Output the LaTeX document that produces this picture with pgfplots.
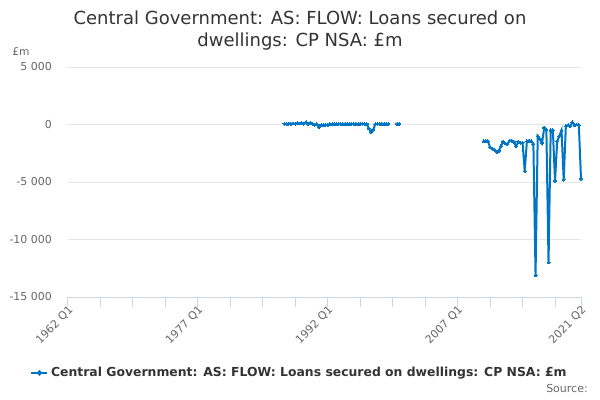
\documentclass[border=0pt]{standalone}
\usepackage{pgfplots}
\pgfplotsset{compat=1.18}
\usepackage{fontspec}
\setmainfont{DejaVu Sans}
\definecolor{lineblue}{RGB}{0,117,196}
\definecolor{gridc}{RGB}{230,230,230}
\definecolor{axisc}{RGB}{204,214,235}
\definecolor{labc}{RGB}{102,102,102}
\definecolor{titc}{RGB}{51,51,51}
\begin{document}
\begin{tikzpicture}
\begin{axis}[
  at={(0pt,0pt)}, anchor=south west,
  scale only axis,
  width=384.75pt, height=172.5pt,
  xmin=1962, xmax=2021.25,
  ymin=-15000, ymax=5000,
  scaled y ticks=false, scaled x ticks=false,
  axis x line*=bottom, axis y line*=left,
  x axis line style={-, color=axisc, line width=0.75pt},
  y axis line style={draw=none},
  xtick={1962,1977,1992,2007,2021.25},
  xticklabels={1962 Q1,1977 Q1,1992 Q1,2007 Q1,2021 Q2},
  minor xtick={1965.75,1969.5,1973.25,1980.75,1984.5,1988.25,1995.75,1999.5,2003.25,2010.75,2014.5,2018.25},
  ytick={-15000,-10000,-5000,0,5000},
  yticklabels={-15 000,-10 000,-5 000,0,5 000},
  major tick length=7.5pt,
  minor tick length=7.5pt,
  tick align=outside,
  xtick style={color=axisc, line width=0.75pt},
  minor x tick style={color=axisc, line width=0.75pt},
  ytick style={draw=none},
  ymajorgrids,
  major grid style={color=gridc, line width=0.75pt},
  tick label style={font=\fontsize{8.2}{9.8}\selectfont, text=labc},
  xticklabel style={rotate=45, anchor=east, inner sep=1pt, yshift=-2.5pt, xshift=2pt},
  yticklabel style={anchor=east, inner sep=0pt, xshift=-4.5pt},
  unbounded coords=jump,
  clip=false,
  legend style={at={(0.452,-0.33)}, anchor=center, draw=none, fill=none,
    font=\fontsize{9.3}{11}\selectfont\bfseries, text=titc, inner sep=0pt},
  legend image code/.code={\draw[#1, mark=none] (0pt,0pt) -- (12pt,0pt); \fill[lineblue] (6pt,0pt) circle (1.2pt);},
]
\addplot[color=lineblue, line width=1.5pt, mark=*, mark size=1.1pt, mark options={fill=lineblue, draw=lineblue, line width=0pt}] coordinates {
(1987.00,50) (1987.25,40) (1987.50,80) (1987.75,60)
(1988.00,90) (1988.25,70) (1988.50,120) (1988.75,90)
(1989.00,150) (1989.25,80) (1989.50,200) (1989.75,30)
(1990.00,160) (1990.25,60) (1990.50,-20) (1990.75,40)
(1991.00,-250) (1991.25,-30) (1991.50,-60) (1991.75,-20)
(1992.00,-50) (1992.25,40) (1992.50,10) (1992.75,50)
(1993.00,20) (1993.25,60) (1993.50,30) (1993.75,50)
(1994.00,40) (1994.25,60) (1994.50,30) (1994.75,50)
(1995.00,40) (1995.25,60) (1995.50,40) (1995.75,50)
(1996.00,60) (1996.25,40) (1996.50,50) (1996.75,-350)
(1997.00,-650) (1997.25,-450) (1997.50,30) (1997.75,60)
(1998.00,50) (1998.25,70) (1998.50,40) (1998.75,60)
(1999.00,50)
(1999.25,nan)
(2000.00,50) (2000.25,50)
(2000.50,nan)
(2010.00,-1450) (2010.25,-1450) (2010.50,-1450) (2010.75,-2000)
(2011.00,-2100) (2011.25,-2200) (2011.50,-2400) (2011.75,-2300)
(2012.00,-1900) (2012.25,-1500) (2012.50,-1650) (2012.75,-1700)
(2013.00,-1400) (2013.25,-1400) (2013.50,-1500) (2013.75,-1900)
(2014.00,-1500) (2014.25,-1600) (2014.50,-1600) (2014.75,-4060)
(2015.00,-1450) (2015.25,-1400) (2015.50,-1450) (2015.75,-1700)
(2016.00,-13100) (2016.25,-1000) (2016.50,-1250) (2016.75,-1600)
(2017.00,-300) (2017.25,-450) (2017.50,-12000) (2017.75,-500)
(2018.00,-500) (2018.25,-4900) (2018.50,-1450) (2018.75,-1000)
(2019.00,-500) (2019.25,-4800) (2019.50,-150) (2019.75,-60)
(2020.00,-150) (2020.25,200) (2020.50,-50) (2020.75,0)
(2021.00,-50) (2021.25,-4720)
};
\addlegendentry{Central Government: AS: FLOW: Loans secured on dwellings: CP NSA: £m}
\end{axis}
\node[anchor=center, align=center, font=\fontsize{13.5}{16.5}\selectfont, text=titc] at (174pt,199.9pt) {Central Government: AS: FLOW: Loans secured on\\dwellings: CP NSA: £m};
\node[anchor=west, inner sep=0pt, font=\fontsize{8}{9.6}\selectfont, text=labc] at (-42pt,183.75pt) {£m};
\node[anchor=east, inner sep=0pt, font=\fontsize{8.25}{9.9}\selectfont, text=labc] at (390pt,-68.25pt) {Source:};
\pgfresetboundingbox
\useasboundingbox (-51pt,-77.25pt) rectangle (399pt,222.75pt);
\end{tikzpicture}
\end{document}
